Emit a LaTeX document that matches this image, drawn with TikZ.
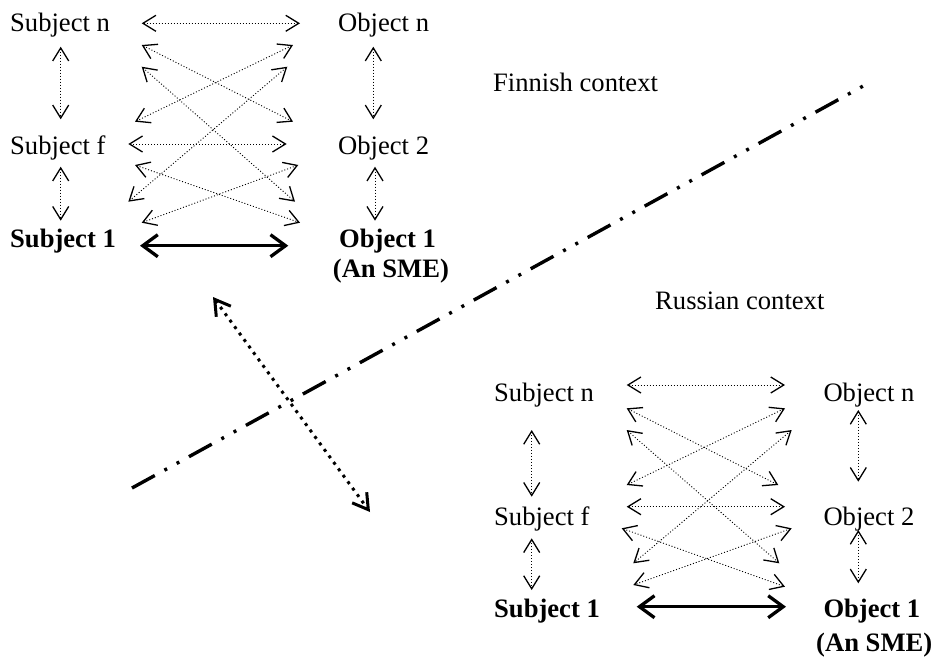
\documentclass[tikz,border=0pt]{standalone}
\usepackage{fontspec}
\setmainfont{Liberation Serif}
\usetikzlibrary{arrows.meta}
\begin{document}
\begin{tikzpicture}[x=1pt,y=-1pt,
  txt/.style={inner sep=0pt, anchor=base west, font=\fontsize{26.6}{31}\selectfont},
  btxt/.style={inner sep=0pt, anchor=base west, font=\fontsize{26.6}{31}\selectfont\bfseries},
  tipthin/.tip={Straight Barb[length=13pt,width=16pt,line width=1.3pt]},
  dotarrow/.style={line width=0.9pt, dash pattern=on 1pt off 2pt, tipthin-tipthin},
  boldarrow/.style={line width=3.3pt, {Straight Barb[length=15pt,width=22pt,line width=3.3pt]}-{Straight Barb[length=15pt,width=22pt,line width=3.3pt]}},
  bigdots/.style={line width=3pt, dash pattern=on 3pt off 5pt, {Straight Barb[length=15pt,width=18pt,line width=3pt]}-{Straight Barb[length=15pt,width=18pt,line width=3pt]}},
  dashdotdot/.style={line width=3.4pt, dash pattern=on 26pt off 11pt on 3pt off 11pt on 3pt off 11pt}
]
\useasboundingbox (0,0) rectangle (937,657);

% ---------- Finnish block ----------
\node[txt]  (fsn) at (10,31.5) {Subject n};
\node[txt]  (fon) at (338,31.5) {Object n};
\node[txt]  (fsf) at (10,154) {Subject f};
\node[txt]  (fo2) at (338,154) {Object 2};
\node[btxt] (fs1) at (10,247) {Subject 1};
\node[btxt] (fo1) at (339,247) {Object 1};
\node[btxt] (fo1b) at (332.7,277.5) {(An SME)};
\node[txt]  (fctx) at (493,91) {Finnish context};

\coordinate (a1s) at (141.7,23.3);  \coordinate (a1e) at (300,23.3);
\coordinate (a2s) at (60.7,46.7);   \coordinate (a2e) at (60.7,119.3);
\coordinate (a3s) at (60.7,166.7);  \coordinate (a3e) at (60.7,220.7);
\coordinate (a4s) at (373.3,46.7);  \coordinate (a4e) at (373.3,119.3);
\coordinate (a5s) at (375,166.7);   \coordinate (a5e) at (375,220.7);
\coordinate (a6s) at (128.3,144);   \coordinate (a6e) at (286.7,144);
\coordinate (a7s) at (140,245.7);   \coordinate (a7e) at (288.3,245.7);
\coordinate (d1s) at (141.7,45);    \coordinate (d1e) at (293,121.7);
\coordinate (d2s) at (293,45);      \coordinate (d2e) at (135,121.7);
\coordinate (d3s) at (141.7,66.7);  \coordinate (d3e) at (295,201.7);
\coordinate (d4s) at (287.3,66.7);  \coordinate (d4e) at (128.3,201.7);
\coordinate (d5s) at (135,165);     \coordinate (d5e) at (300,222.7);
\coordinate (d6s) at (298.3,165);   \coordinate (d6e) at (141.7,222.7);

\foreach \p in {a1,a2,a3,a4,a5,a6,d1,d2,d3,d4,d5,d6}
  \draw[dotarrow] (\p s) -- (\p e);
\draw[boldarrow] (a7s) -- (a7e);

% ---------- Russian block ----------
\node[txt]  (rsn) at (494,401.7) {Subject n};
\node[txt]  (ron) at (823.3,401.7) {Object n};
\node[txt]  (rsf) at (494,525) {Subject f};
\node[txt]  (ro2) at (823.3,525) {Object 2};
\node[btxt] (rs1) at (494,617.7) {Subject 1};
\node[btxt] (ro1) at (823.3,617.7) {Object 1};
\node[btxt] (ro1b) at (816,651) {(An SME)};
\node[txt]  (rctx) at (655,309) {Russian context};

\coordinate (b1s) at (626.7,385);   \coordinate (b1e) at (785,385);
\coordinate (b2s) at (531.7,430);   \coordinate (b2e) at (531.7,496.7);
\coordinate (b3s) at (531.7,538.3); \coordinate (b3e) at (531.7,590);
\coordinate (b4s) at (858.3,410);   \coordinate (b4e) at (858.3,481.7);
\coordinate (b5s) at (858.3,530);   \coordinate (b5e) at (858.3,583.3);
\coordinate (b6s) at (626.7,506.7); \coordinate (b6e) at (785,506.7);
\coordinate (b7s) at (636.7,606.7); \coordinate (b7e) at (786,606.7);
\coordinate (e1s) at (626.7,408.3); \coordinate (e1e) at (778.3,485);
\coordinate (e2s) at (785,408.3);   \coordinate (e2e) at (626.7,485);
\coordinate (e3s) at (626.7,430);   \coordinate (e3e) at (779.3,563.3);
\coordinate (e4s) at (791.7,430);   \coordinate (e4e) at (633.3,563.3);
\coordinate (e5s) at (621.7,528.3); \coordinate (e5e) at (785,586.7);
\coordinate (e6s) at (791.7,528.3); \coordinate (e6e) at (633.3,585);

\foreach \p in {b1,b2,b3,b4,b5,b6,e1,e2,e3,e4,e5,e6}
  \draw[dotarrow] (\p s) -- (\p e);
\draw[boldarrow] (b7s) -- (b7e);

% ---------- border line and link ----------
\coordinate (ls) at (132,488);
\coordinate (le) at (865,85);
\draw[dashdotdot] (ls) -- (le);

\coordinate (ks) at (213,297);
\coordinate (ke) at (370,512);
\draw[bigdots] (ks) -- (ke);
\end{tikzpicture}
\end{document}
